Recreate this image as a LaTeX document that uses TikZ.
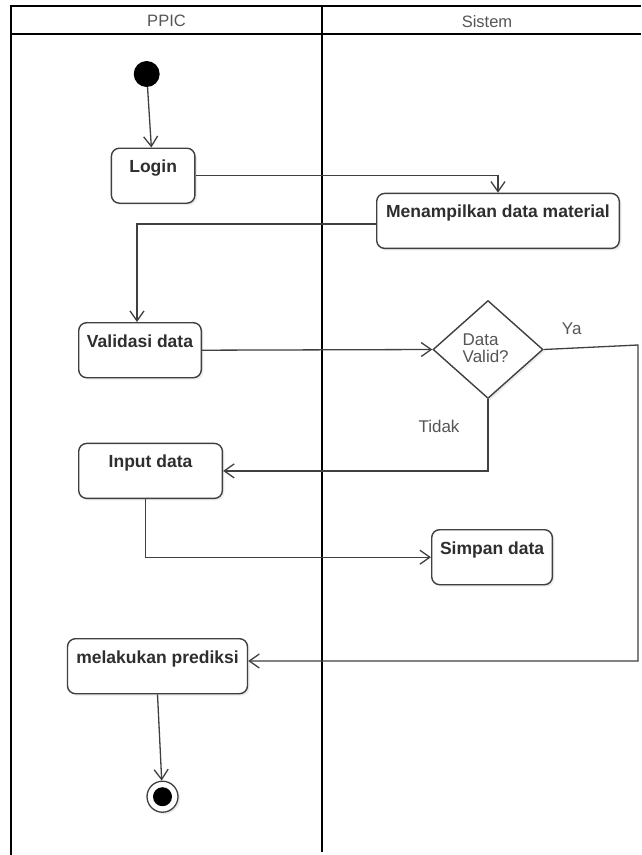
\documentclass[tikz,border=0pt]{standalone}
\usepackage{fontspec}
\setmainfont{Liberation Sans}
\usetikzlibrary{arrows.meta,shapes.geometric,shadows}
\definecolor{ln}{HTML}{404040}
\definecolor{tx}{HTML}{2E2E2E}
\definecolor{hd}{HTML}{555555}
\tikzset{
  lane/.style={line width=1.7pt, draw=black},
  actbox/.style={draw=ln, line width=1.4pt, fill=white, rounded corners=8pt,
    inner xsep=0pt, inner ysep=0pt, text height=24.5pt, text depth=30.5pt,
    anchor=north west, font=\fontsize{17.5}{20}\selectfont\bfseries, text=tx,
    drop shadow={opacity=0.15, shadow xshift=2pt, shadow yshift=-2pt}},
  flow/.style={draw=ln, line width=1.3pt,
    -{Straight Barb[length=10pt,width=14pt,line width=1.3pt]}},
  lbl/.style={font=\fontsize{17}{17}\selectfont, text=hd, inner sep=0pt},
  hdr/.style={font=\fontsize{16.5}{18}\selectfont, text=hd, inner sep=0pt},
}
\begin{document}
\begin{tikzpicture}[x=1pt,y=-1pt]
\useasboundingbox (0,0) rectangle (641,855);
\fill[white] (0,0) rectangle (641,855);
% swimlanes
\draw[lane] (11,855) -- (11,6) -- (641,6);
\draw[lane] (11,34) -- (641,34);
\draw[lane] (322,6) -- (322,852);
\node[hdr] (hppic) at (166.5,21) {PPIC};
\node[hdr] (hsis) at (487,22) {Sistem};
% nodes
\node[circle, fill=black, minimum size=26pt, inner sep=0pt] (start) at (146.7,74) {};
\node[actbox, minimum width=83.5pt] (login) at (110.7,147.5) {Login};
\node[actbox, minimum width=242.6pt] (menu) at (376,192.7) {Menampilkan data material};
\node[actbox, minimum width=122.6pt] (valid) at (78,322) {Validasi data};
\node[diamond, draw=ln, line width=1.4pt, fill=white, minimum width=110pt,
  minimum height=98pt, inner sep=0pt,
  drop shadow={opacity=0.15, shadow xshift=2pt, shadow yshift=-2pt}] (dec) at (488,349.5) {};
\node[lbl, align=left] (dectext) at (485.7,348.5) {Data\\Valid?};
\node[actbox, minimum width=143.7pt] (input) at (78,442.7) {Input data};
\node[actbox, minimum width=120.7pt] (simpan) at (431,529) {Simpan data};
\node[actbox, minimum width=180pt] (prediksi) at (66.8,638) {melakukan prediksi};
\node[circle, draw=ln, line width=1.3pt, fill=white, minimum size=31pt, inner sep=0pt,
  drop shadow={opacity=0.15, shadow xshift=2pt, shadow yshift=-2pt}] (stop) at (162.5,796.7) {};
\node[circle, fill=black, minimum size=19pt, inner sep=0pt] (stopin) at (stop.center) {};
% labels
\node[lbl] (ya) at (571.7,328.5) {Ya};
\node[lbl] (tidak) at (439,426.7) {Tidak};
% connectors
\coordinate (yaA) at (638,345);
\coordinate (yaB) at (638,661);
\draw[flow] (start) -- (login);
\draw[flow] (login.east) -| (menu.north);
\draw[flow] ([yshift=-3pt]menu.west) -| ([xshift=-3pt]valid.north);
\draw[flow] (valid.east) -- (dec.west);
\draw[flow] (dec.east) -- (yaA) -- (yaB) -- (yaB -| prediksi.east);
\draw[flow] (dec.south) |- (input.east);
\draw[flow] ([xshift=-5pt]input.south) |- (simpan.west);
\draw[flow] (prediksi.south) -- (stop);
\end{tikzpicture}
\end{document}
